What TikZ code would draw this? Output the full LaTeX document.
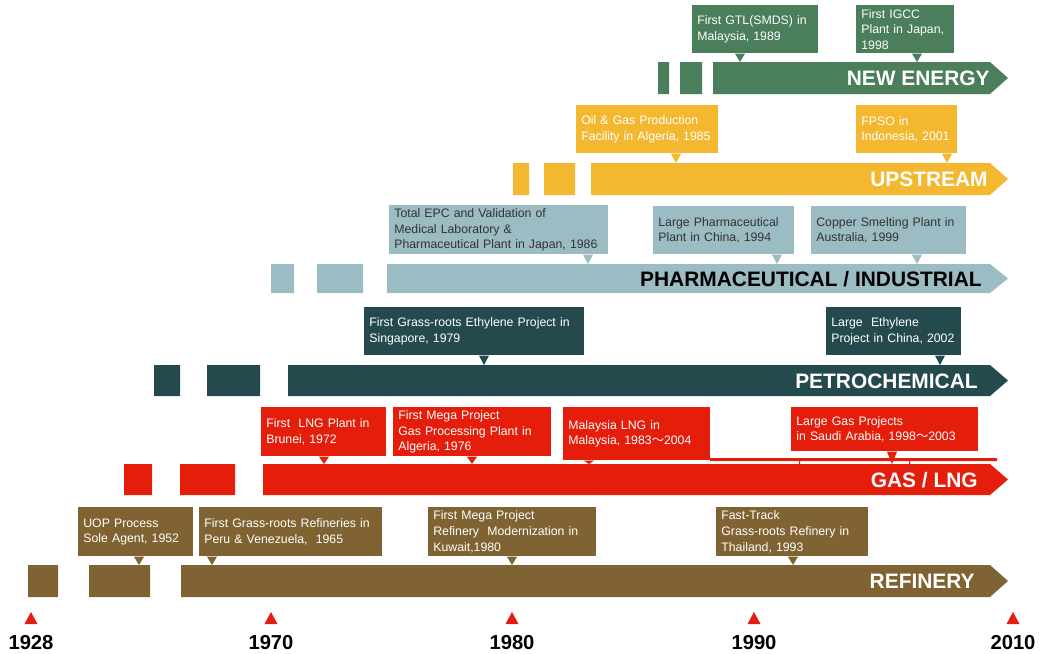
\documentclass[tikz,border=0pt]{standalone}
\usepackage{fontspec}
\setmainfont{Liberation Sans}
\newfontfamily\cjkfont{Noto Sans CJK SC}

\definecolor{necol}{RGB}{75,126,91}
\definecolor{upcol}{RGB}{243,184,48}
\definecolor{phcol}{RGB}{155,188,195}
\definecolor{pccol}{RGB}{36,74,78}
\definecolor{gscol}{RGB}{228,30,10}
\definecolor{rfcol}{RGB}{128,99,50}
\definecolor{markcol}{RGB}{226,30,20}

\newcommand{\boxfont}{\fontsize{7}{8.9}\selectfont}
\newcommand{\bandfont}{\fontsize{11.9}{14}\selectfont\bfseries}
\newcommand{\yearfont}{\fontsize{11.5}{14}\selectfont\bfseries}
\newcommand{\wave}{{\cjkfont ～}}

\begin{document}
\begin{tikzpicture}
[x=0.02cm,y=-0.02cm,
 box/.style 2 args={anchor=north west,inner xsep=0.1cm,inner ysep=0pt,
   minimum width=#1*0.02cm,text width=#1*0.02cm-0.2cm,
   minimum height=#2*0.02cm,align=left,font=\boxfont,text=white},
 band/.style={anchor=base east,inner sep=0pt,font=\bandfont,text=white},
 year/.style={anchor=base,inner sep=0pt,font=\yearfont}]

  \useasboundingbox (0,0) rectangle (1041,653);

  % bands, top to bottom
  \fill[necol] (658,62) rectangle (669,94) (680,62) rectangle (702,94)
    (713,62) -- (990,62) -- (1008,78) -- (990,94) -- (713,94) -- cycle;
  \fill[upcol] (513,163) rectangle (529,195) (544,163) rectangle (575,195)
    (591,163) -- (990,163) -- (1008,179) -- (990,195) -- (591,195) -- cycle;
  \fill[phcol] (271,264) rectangle (294,293) (317,264) rectangle (363,293)
    (387,264) -- (990,264) -- (1008,278.5) -- (990,293) -- (387,293) -- cycle;
  \fill[pccol] (154,365) rectangle (180,396) (207,365) rectangle (260,396)
    (288,365) -- (990,365) -- (1008,380.5) -- (990,396) -- (288,396) -- cycle;
  \fill[gscol] (124,464) rectangle (152,495) (180,464) rectangle (235,495)
    (263,464) -- (990,464) -- (1008,479.5) -- (990,495) -- (263,495) -- cycle;
  \fill[gscol] (710,458) rectangle (997,461) (799,461) rectangle (800,464)
    (909,461) rectangle (910,464);
  \fill[rfcol] (28,565) rectangle (58,597) (89,565) rectangle (150,597)
    (181,565) -- (990,565) -- (1008,581) -- (990,597) -- (181,597) -- cycle;

  \node[band] (ne) at (990,85.5) {NEW ENERGY};
  \node[band] (up) at (988,186.5) {UPSTREAM};
  \node[band,text=black] (ph) at (982,286) {PHARMACEUTICAL / INDUSTRIAL};
  \node[band] (pc) at (978,388) {PETROCHEMICAL};
  \node[band] (gs) at (978,487) {GAS / LNG};
  \node[band] (rf) at (975,588.5) {REFINERY};

  % new energy
  \node[box={126}{48},fill=necol] (ne1) at (692,5) {First GTL(SMDS) in\\Malaysia, 1989};
  \node[box={98}{48},fill=necol] (ne2) at (856,5) {First IGCC\\Plant in Japan,\\1998};
  \foreach \n/\p in {ne1/740,ne2/917}
    \fill[necol] (\n.south -| \p,0) ++(-5,0) -- ++(10,0) -- (\p,62) -- cycle;

  % upstream
  \node[box={142}{48},fill=upcol] (up1) at (576,105) {Oil \& Gas Production\\Facility in Algeria, 1985};
  \node[box={101}{48},fill=upcol] (up2) at (856,105) {FPSO in\\Indonesia,\ 2001};
  \foreach \n/\p in {up1/676,up2/947}
    \fill[upcol] (\n.south -| \p,0) ++(-5,0) -- ++(10,0) -- (\p,163) -- cycle;

  % pharmaceutical / industrial
  \node[box={219}{49},fill=phcol,text=black!80] (ph1) at (389,205) {Total EPC and Validation of\\Medical Laboratory \&\\Pharmaceutical Plant in Japan, 1986};
  \node[box={141}{48},fill=phcol,text=black!80] (ph2) at (653,206) {Large Pharmaceutical\\Plant in China, 1994};
  \node[box={155}{48},fill=phcol,text=black!80] (ph3) at (811,206) {Copper Smelting Plant in\\Australia, 1999};
  \foreach \n/\p in {ph1/588,ph2/777,ph3/917}
    \fill[phcol] (\n.south -| \p,0) ++(-5,0) -- ++(10,0) -- (\p,264) -- cycle;

  % petrochemical
  \node[box={220}{48},fill=pccol] (pc1) at (364,307) {First Grass-roots Ethylene Project in\\Singapore, 1979};
  \node[box={135}{48},fill=pccol] (pc2) at (826,307) {Large\ \ Ethylene\\Project in China, 2002};
  \foreach \n/\p in {pc1/484,pc2/940}
    \fill[pccol] (\n.south -| \p,0) ++(-5,0) -- ++(10,0) -- (\p,365) -- cycle;

  % gas / lng
  \node[box={125}{49},fill=gscol] (gs1) at (261,407) {First\ \ LNG Plant in\\Brunei, 1972};
  \node[box={158}{49},fill=gscol] (gs2) at (393,407) {First Mega Project\\Gas Processing Plant in\\Algeria, 1976};
  \node[box={147}{53},fill=gscol] (gs3) at (563,407) {Malaysia LNG in\\Malaysia, 1983\wave2004};
  \node[box={187}{44},fill=gscol] (gs4) at (791,407) {Large Gas Projects\\in Saudi Arabia, 1998\wave2003};
  \foreach \n/\p in {gs1/324,gs2/472,gs3/589,gs4/892}
    \fill[gscol] (\n.south -| \p,0) ++(-5,0) -- ++(10,0) -- (\p,464) -- cycle;

  % refinery
  \node[box={115}{49},fill=rfcol] (rf1) at (78,507) {UOP Process\\Sole Agent,\ 1952};
  \node[box={183}{49},fill=rfcol] (rf2) at (199,507) {First Grass-roots Refineries in\\Peru \& Venezuela,\ \ 1965};
  \node[box={168}{49},fill=rfcol] (rf3) at (428,507) {First Mega Project\\Refinery\ \ Modernization in\\Kuwait,1980};
  \node[box={152}{49},fill=rfcol] (rf4) at (716,507) {Fast-Track\\Grass-roots Refinery in\\Thailand, 1993};
  \foreach \n/\p in {rf1/139,rf2/212,rf3/512,rf4/793}
    \fill[rfcol] (\n.south -| \p,0) ++(-5,0) -- ++(10,0) -- (\p,565) -- cycle;

  % time axis
  \foreach \yr/\x in {1928/31,1970/271,1980/512,1990/754,2010/1013} {
    \node[year] (y\yr) at (\x,649) {\yr};
    \fill[markcol] (\x-6.5,624) -- (\x+6.5,624) -- (\x,612) -- cycle;
  }
\end{tikzpicture}
\end{document}
